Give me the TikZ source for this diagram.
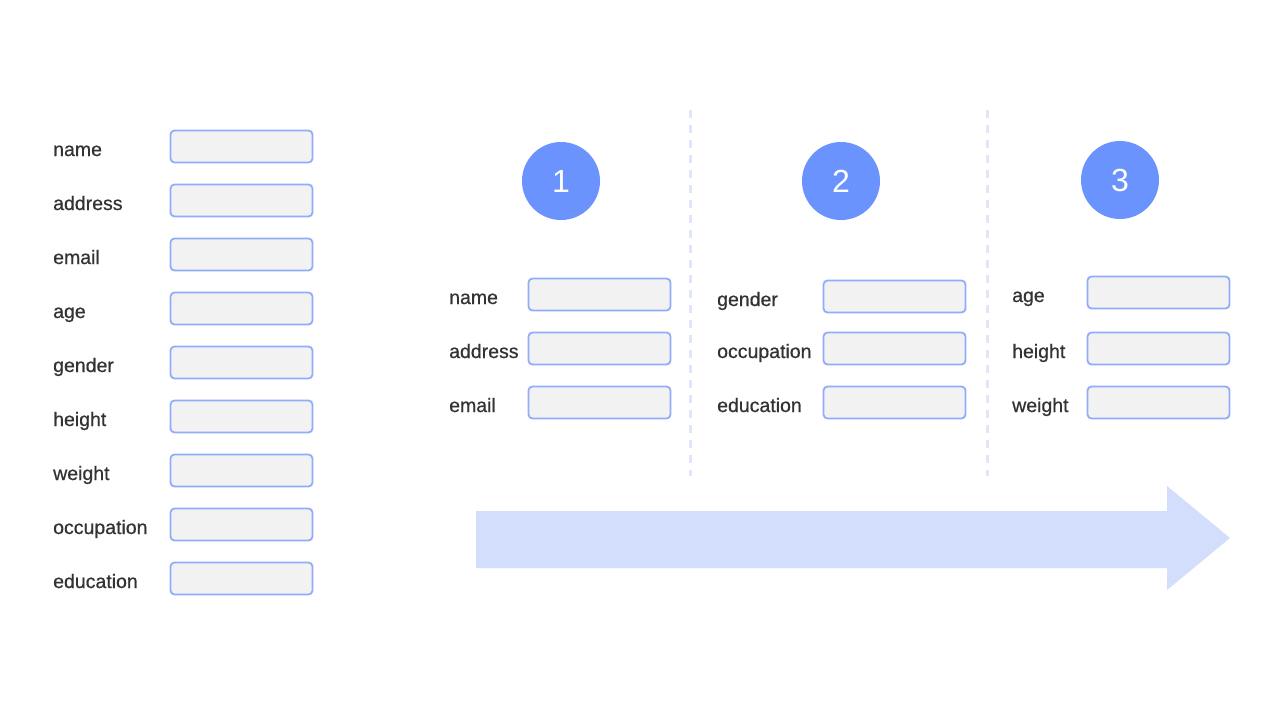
\documentclass[tikz,border=0pt]{standalone}
\usepackage{fontspec}
\setmainfont{Liberation Sans}
\newfontfamily\lblfont[FakeBold=0.6]{Liberation Sans}
\definecolor{txt}{HTML}{333333}
\definecolor{boxfill}{HTML}{F2F2F2}
\definecolor{boxline}{HTML}{91ACFB}
\definecolor{circ}{HTML}{6B93FD}
\definecolor{sep}{HTML}{E0E6FA}
\definecolor{arr}{HTML}{D3DEFC}
\begin{document}
\begin{tikzpicture}[x=1pt,y=-1pt,
  lbl/.style={anchor=base west,text=txt,font=\lblfont\fontsize{19.5}{22}\selectfont,inner sep=0pt},
  field/.style={draw=boxline,fill=boxfill,line width=1.8pt,rounded corners=4pt,minimum width=142pt,minimum height=32pt,inner sep=0pt},
  num/.style={circle,fill=circ,minimum size=78pt,inner sep=0pt,text=white,font=\fontsize{32}{34}\selectfont},
  sepline/.style={draw=sep,line width=3pt,dash pattern=on 8pt off 7pt},
  arrowshape/.style={fill=arr,draw=none}]
\useasboundingbox (0,0) rectangle (1280,724);
\fill[white] (0,0) rectangle (1280,724);
% left column
\foreach \t [count=\i from 0] in {name,address,email,age,gender,height,weight,occupation,education}{
  \node[lbl] (L\i) at (53,{156+54*\i}) {\t};
  \node[field] (F\i) at (241.5,{146.5+54*\i}) {};
}
% circles
\node[num] (c1) at (561,181) {1};
\node[num] (c2) at (841,181) {2};
\node[num] (c3) at (1120,180) {3};
% column 1
\foreach \t [count=\i from 0] in {name,address,email}{
  \node[lbl] (A\i) at (449,{304+54*\i}) {\t};
}
\node[field] (AF0) at (599.5,294.5) {};
\node[field] (AF1) at (599.5,348.5) {};
\node[field] (AF2) at (599.5,402.5) {};
% column 2
\node[lbl] (B0) at (717,306) {gender};
\node[lbl] (B1) at (717,358) {occupation};
\node[lbl] (B2) at (717,412) {education};
\node[field] (BF0) at (894.5,296.5) {};
\node[field] (BF1) at (894.5,348.5) {};
\node[field] (BF2) at (894.5,402.5) {};
% column 3
\node[lbl] (C0) at (1012,302) {age};
\node[lbl] (C1) at (1012,358) {height};
\node[lbl] (C2) at (1012,412) {weight};
\node[field] (CF0) at (1158.5,292.5) {};
\node[field] (CF1) at (1158.5,348.5) {};
\node[field] (CF2) at (1158.5,402.5) {};
% separators
\coordinate (s1a) at (690,110); \coordinate (s1b) at (690,476);
\coordinate (s2a) at (987,110); \coordinate (s2b) at (987,476);
\draw[sepline] (s1a) -- (s1b);
\draw[sepline] (s2a) -- (s2b);
% big arrow
\fill[arrowshape] (476,511) -- (1167,511) -- (1167,486) -- (1230,538) -- (1167,590) -- (1167,568) -- (476,568) -- cycle;
\end{tikzpicture}
\end{document}
